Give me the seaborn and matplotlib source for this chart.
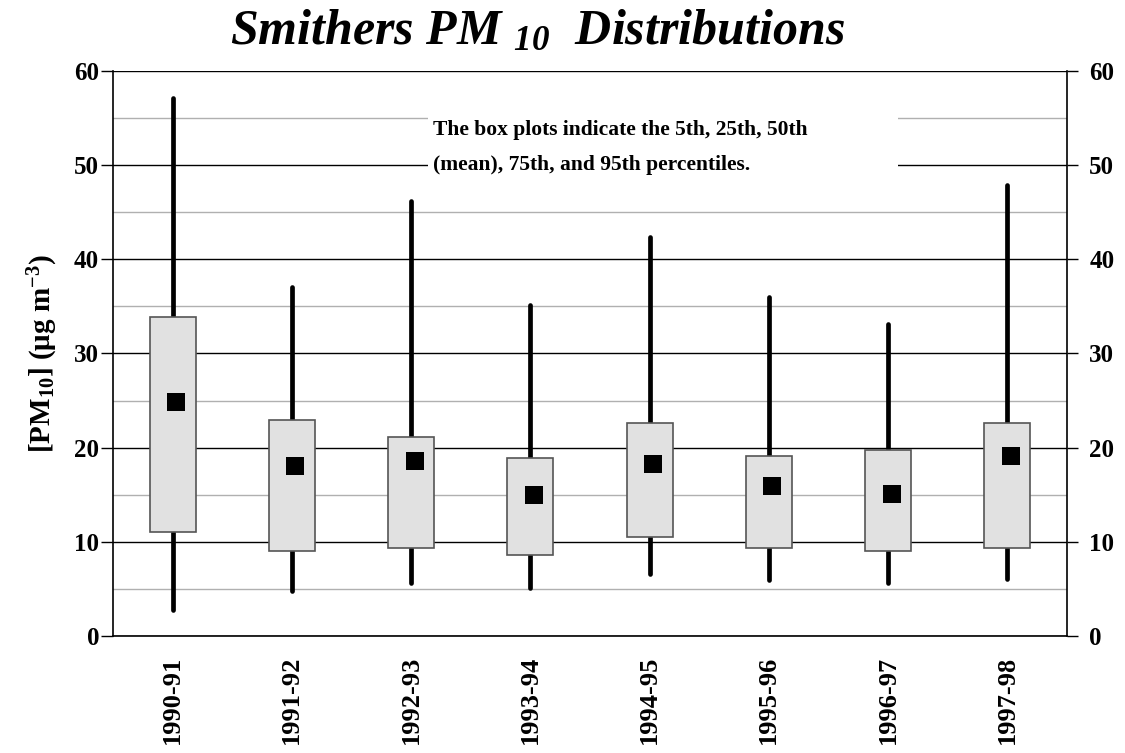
import numpy as np
import matplotlib
matplotlib.use("Agg")
import matplotlib.pyplot as plt
import matplotlib.patches as mpatches
import seaborn as sns

# Smithers PM10 percentiles per season
seasons = ["1990-91", "1991-92", "1992-93", "1993-94",
           "1994-95", "1995-96", "1996-97", "1997-98"]
p05 = [2.8, 4.8, 5.6, 5.1, 6.6, 5.9, 5.6, 6.0]
p25 = [11.0, 9.0, 9.3, 8.6, 10.5, 9.3, 9.0, 9.3]
p50 = [24.8, 18.1, 18.6, 15.0, 18.3, 15.9, 15.1, 19.1]
p75 = [33.9, 22.9, 21.1, 18.9, 22.6, 19.1, 19.8, 22.6]
p95 = [57.1, 37.1, 46.2, 35.1, 42.4, 36.0, 33.1, 47.9]

sns.set_theme(style="white")
plt.rcParams['font.family'] = ['Liberation Serif', 'DejaVu Serif']
plt.rcParams['font.weight'] = 'bold'
plt.rcParams['mathtext.default'] = 'regular'
plt.rcParams['text.color'] = 'black'
plt.rcParams['axes.labelcolor'] = 'black'
plt.rcParams['xtick.color'] = 'black'
plt.rcParams['ytick.color'] = 'black'

fig = plt.figure(figsize=(11.25, 7.53), dpi=100)
ax = fig.add_axes([0.1004, 0.1554, 0.8480, 0.7503])

pos = np.arange(len(seasons))
stats = [dict(whislo=a, q1=b, med=c, q3=d, whishi=e, label=s)
         for s, a, b, c, d, e in zip(seasons, p05, p25, p50, p75, p95)]
ax.bxp(stats, positions=pos, widths=0.385, patch_artist=True,
       showcaps=False, showfliers=False,
       boxprops=dict(facecolor='#e1e1e1', edgecolor='#555555', linewidth=1.2, zorder=4),
       whiskerprops=dict(color='black', linewidth=3.4, solid_capstyle='round', zorder=3),
       medianprops=dict(linewidth=0))

sns.scatterplot(x=pos + 0.03, y=p50, marker='s', s=180, color='black',
                edgecolor='black', linewidth=0, zorder=5, ax=ax, legend=False)

ax.set_ylim(0, 60)
ax.set_xlim(-0.5, len(seasons) - 0.5)
ax.set_yticks(np.arange(0, 61, 10))
ax.set_yticks(np.arange(5, 60, 10), minor=True)
ax.grid(which='major', axis='y', color='black', linewidth=1.0, zorder=0)
ax.grid(which='minor', axis='y', color='#b0b0b0', linewidth=1.0, zorder=0)
ax.set_axisbelow(True)

# x ticks at boundaries, labels centred
ax.set_xticks(np.arange(-0.5, len(seasons), 1.0))
ax.set_xticklabels([])
ax.set_xticks(pos, minor=True)
ax.set_xticklabels(seasons, minor=True, rotation=90, fontsize=19, fontweight='bold')
ax.tick_params(axis='x', which='major', direction='out', length=9, width=1, color='black')
ax.tick_params(axis='x', which='minor', length=0, pad=14)
ax.tick_params(axis='y', which='major', direction='out', length=9, width=1,
               labelsize=18, color='black', pad=1)
ax.tick_params(axis='y', which='minor', length=0)
for lab in ax.get_yticklabels():
    lab.set_fontweight('bold')

for side in ['left', 'bottom']:
    ax.spines[side].set_color('black')
    ax.spines[side].set_linewidth(1.2)
ax.spines['top'].set_visible(False)
ax.spines['right'].set_visible(False)

ax2 = ax.twinx()
ax2.set_ylim(0, 60)
ax2.set_yticks(np.arange(0, 61, 10))
ax2.tick_params(axis='y', direction='out', length=8, width=1,
                labelsize=18, color='black', pad=8)
for lab in ax2.get_yticklabels():
    lab.set_fontweight('bold')
for side in ['left', 'bottom', 'top']:
    ax2.spines[side].set_visible(False)
ax2.spines['right'].set_color('black')
ax2.spines['right'].set_linewidth(1.2)
ax2.grid(False)

ax.set_ylabel("[PM$_{10}$] (μg m$^{-3}$)", fontsize=21, fontweight='bold', labelpad=10)

# note box
ax.add_patch(mpatches.Rectangle((0.330, 0.79), 0.493, 0.15, transform=ax.transAxes,
                                facecolor='white', edgecolor='none', zorder=2))
ax.text(0.336, 0.913, "The box plots indicate the 5th, 25th, 50th\n(mean), 75th, and 95th percentiles.",
        transform=ax.transAxes, ha='left', va='top', fontsize=15.5, fontweight='bold',
        linespacing=2.0, zorder=6)

fig.suptitle("Smithers PM $_{10}$  Distributions", x=0.478, y=0.988, va='top',
             fontsize=36, fontweight='bold', style='italic')

fig.savefig("out.png", dpi=100, facecolor='white')
